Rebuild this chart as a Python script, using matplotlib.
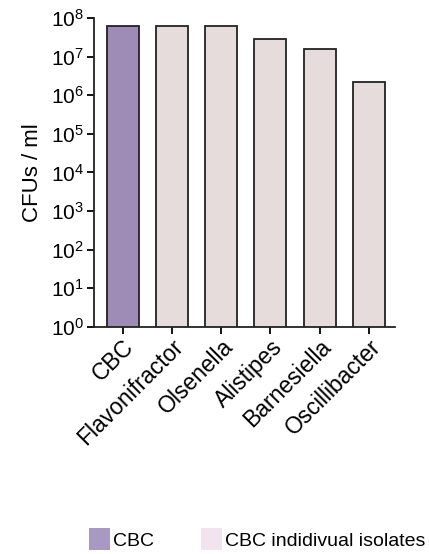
import matplotlib
matplotlib.use("Agg")
import matplotlib.pyplot as plt
from matplotlib.patches import Patch

plt.rcParams['font.family'] = ['Liberation Sans', 'DejaVu Sans']

# CFU counts per isolate (log scale)
strains = ['CBC', 'Flavonifractor', 'Olsenella', 'Alistipes', 'Barnesiella', 'Oscillibacter']
cfus = [6.3e7, 6.3e7, 6.3e7, 2.8e7, 1.6e7, 2.2e6]
bar_colors = ['#9e8bb6', '#e6dcdc', '#e6dcdc', '#e6dcdc', '#e6dcdc', '#e6dcdc']
legend_labels = ['CBC', 'CBC indidivual isolates']
legend_colors = ['#a898c4', '#f2e4ef']

fig = plt.figure(figsize=(4.29, 5.54), dpi=100)
ax = fig.add_axes([0.219, 0.41, 0.702, 0.5575])

x = range(len(strains))
ax.bar(x, cfus, width=0.65, color=bar_colors, edgecolor='#222222', linewidth=1.3)

ax.set_yscale('log')
ax.set_ylim(1, 1e8)
ax.set_xlim(-0.58, 5.53)
ax.set_yticks([10**k for k in range(9)])
ax.minorticks_off()
ax.tick_params(axis='y', labelsize=15, length=5, width=1.3, pad=2)
ax.tick_params(axis='x', labelsize=16.5, length=5, width=1.3, pad=1)
ax.set_xticks(list(x))
ax.set_xticklabels(strains, rotation=45, ha='right', rotation_mode='anchor')
ax.set_ylabel('CFUs / ml', fontsize=16, labelpad=6)

for side in ['top', 'right']:
    ax.spines[side].set_visible(False)
for side in ['left', 'bottom']:
    ax.spines[side].set_linewidth(1.3)
    ax.spines[side].set_color('#222222')

handles = [Patch(facecolor=c, edgecolor='none') for c in legend_colors]
fig.legend(handles, legend_labels, loc='center left', bbox_to_anchor=(0.207, 0.027),
           ncol=2, frameon=False, fontsize=14, handlelength=1.1, handleheight=1.35,
           handletextpad=0.15, columnspacing=2.4, borderpad=0, borderaxespad=0)

fig.savefig('out.png', dpi=100)
